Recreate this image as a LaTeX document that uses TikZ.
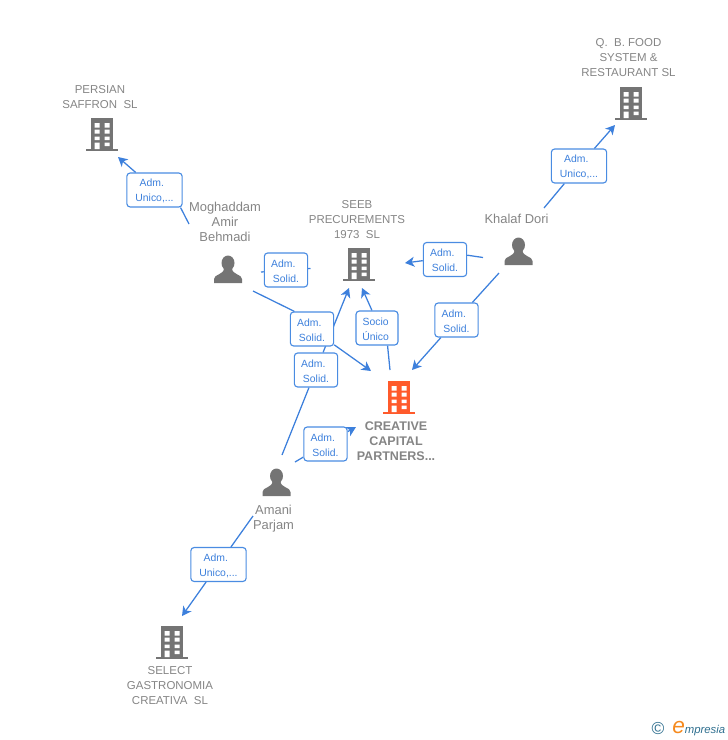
\documentclass[tikz,border=0pt]{standalone}
\usepackage{fontspec}
\setmainfont{Liberation Sans}
\usetikzlibrary{arrows.meta,backgrounds}
\definecolor{linkblue}{HTML}{3D80DC}
\definecolor{boxblue}{HTML}{4A8CE2}
\definecolor{textgray}{HTML}{858585}
\definecolor{icongray}{HTML}{747474}
\definecolor{iconorange}{HTML}{FF5A2B}
\definecolor{logoteal}{HTML}{2F6F8F}
\definecolor{logoorange}{HTML}{F58A1F}
\tikzset{
  building/.style={inner sep=0pt, minimum width=25.5pt, minimum height=25.5pt, path picture={
    \begin{scope}[shift={(path picture bounding box.center)}]
      \fill[#1] (-11,-16) rectangle (11,15);
      \fill[#1] (-16,15) rectangle (16,17);
      \foreach \wy/\wh in {-11/4.5, -4.5/4, 2.5/3.6}
        \fill[white] (-7.5,\wy) rectangle +(5,\wh) (2.5,\wy) rectangle +(5,\wh);
      \fill[white] (-7.5,8.5) rectangle (-2.5,15) (2.5,8.5) rectangle (7.5,12.2);
    \end{scope}}},
  person/.style={inner sep=0pt, minimum width=30pt, minimum height=24pt, path picture={
    \begin{scope}[shift={(path picture bounding box.center)}]
      \fill[icongray] (0,-7) ellipse (6.5 and 7.5);
      \fill[icongray] (-14,13) -- (-14,9) .. controls (-14,4) and (-4,5) .. (-4,-2)
        -- (4,-2) .. controls (4,5) and (14,4) .. (14,9) -- (14,13) -- cycle;
    \end{scope}}},
  nametext/.style={text=textgray, align=center, font=\fontsize{8.6}{11.25}\selectfont, inner sep=0pt},
  persontext/.style={text=textgray, align=center, font=\fontsize{9.7}{11.25}\selectfont, inner sep=0pt},
  maintext/.style={text=textgray, align=center, font=\fontsize{9.4}{11.25}\selectfont\bfseries, inner sep=0pt},
  rolebox/.style={draw=boxblue, fill=white, rounded corners=2.5pt, line width=0.85pt, text=linkblue,
    align=center, font=\fontsize{7.8}{11.25}\selectfont, inner sep=0pt, text height=18.6pt,
    minimum height=25.5pt, minimum width=#1},
  rolebox/.default=32.5pt,
  link/.style={draw=linkblue, line width=0.95pt, -{Stealth[length=7pt,width=7.5pt,inset=2pt]}},
}
\begin{document}
\begin{tikzpicture}[x=0.75pt,y=-0.75pt]
\useasboundingbox (0,0) rectangle (728,740);
% companies
\foreach \n/\x/\y/\c in {persian/102/134/icongray, food/631/103/icongray, seeb/359/264/icongray,
    creative/399/397/iconorange, select/172/642/icongray}
  \node[building=\c] (\n) at (\x,\y) {};
% people
\foreach \n/\x/\y in {moghaddam/228/270, khalaf/518.5/252, amani/276.5/483}
  \node[person] (\n) at (\x,\y) {};
% texts
\node[nametext] (persiantext) at (100,97.5) {PERSIAN\\SAFFRON~~SL};
\node[nametext] (foodtext) at (628.5,58) {Q.~~B. FOOD\\SYSTEM \&\\RESTAURANT SL};
\node[nametext] (seebtext) at (357,220) {SEEB\\PRECUREMENTS\\1973~~SL};
\node[nametext] (selecttext) at (170,686) {SELECT\\GASTRONOMIA\\CREATIVA~~SL};
\node[maintext] (creativetext) at (396,441) {CREATIVE\\CAPITAL\\PARTNERS...};
\node[persontext] (moghaddamtext) at (225,222) {Moghaddam\\Amir\\Behmadi};
\node[persontext] (khalaftext) at (516.5,219) {Khalaf Dori};
\node[persontext] (amanitext) at (273.5,518.5) {Amani\\Parjam};
% boxes
\node[rolebox=41.5pt] (boxpersian) at (154.5,190) {Adm.\hspace*{4pt}\\Unico,...};
\node[rolebox=41.5pt] (boxfood) at (579,166) {Adm.\hspace*{4pt}\\Unico,...};
\node[rolebox=41.5pt] (boxselect) at (218.5,564.5) {Adm.\hspace*{4pt}\\Unico,...};
\node[rolebox] (boxseeba) at (286,270) {Adm.\hspace*{4pt}\\Solid.};
\node[rolebox] (boxcreativea) at (312,329) {Adm.\hspace*{4pt}\\Solid.};
\node[rolebox] (boxseebb) at (316,370) {Adm.\hspace*{4pt}\\Solid.};
\node[rolebox] (boxcreativeb) at (325.5,444) {Adm.\hspace*{4pt}\\Solid.};
\node[rolebox] (boxseebc) at (445,259.5) {Adm.\hspace*{4pt}\\Solid.};
\node[rolebox] (boxcreativec) at (456.5,320) {Adm.\hspace*{4pt}\\Solid.};
\node[rolebox=31.5pt] (boxsocio) at (377,328) {Socio\hspace*{2pt}\\Único\hspace*{2pt}};
% free ends of the links
\foreach \n/\x/\y in {ta/189/224, ha/118/157, tb/544/208, hb/615/125, tc/253/291, hc/371/371,
    td/282/455, hd/349/288, te/390/370, he/362/288, tf/295/462, hf/356/427,
    tg/483/257.5, hg/405/263, th/499/273, hh/412/370, ti/253/516, hi/182/616,
    tj/261/272, hj/310.5/268.5}
  \coordinate (\n) at (\x,\y);
\begin{pgfonlayer}{background}
\foreach \a/\b/\c in {tb/boxfood/hb, td/boxseebb/hd, tf/boxcreativeb/hf, th/boxcreativec/hh, ti/boxselect/hi}
  \draw[link] (\a) -- (\b) -- (\c);
\draw[link] (ta) -- (boxpersian.-34.8) (boxpersian.137.4) -- (ha);
\draw[link] (tc) -- (boxcreativea.135) (boxcreativea) -- (hc);
\draw[link] (te) -- (boxsocio.-59.5) (boxsocio.106) -- (he);
\draw[link] (tg) -- (boxseebc.11.6) (boxseebc.183.9) -- (hg);
\draw[draw=linkblue, line width=0.95pt] (tj) -- (boxseeba) -- (hj);
\end{pgfonlayer}
% logo
\node[text=logoteal, font=\fontsize{13}{13}\selectfont, inner sep=0pt] (logomark) at (658,729) {©};
\node[text=logoteal, font=\fontsize{8.5}{11}\selectfont\itshape, inner sep=0pt, anchor=base west] (logotext) at (672,733.5)
  {\textcolor{logoorange}{\fontsize{17}{17}\selectfont e}mpresia};
\end{tikzpicture}
\end{document}
